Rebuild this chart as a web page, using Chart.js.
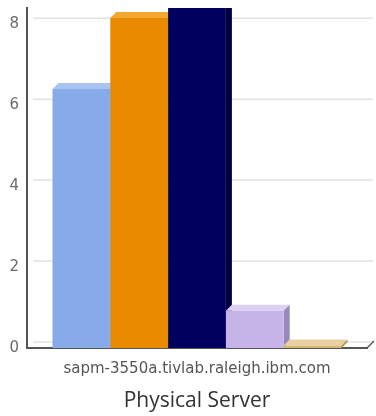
<!DOCTYPE html>
<html>
<head>
<meta charset="utf-8">
<script src="https://cdn.jsdelivr.net/npm/chart.js@4/dist/chart.umd.min.js"></script>
<style>
  html, body { margin: 0; padding: 0; background: #fff; }
  #wrap { width: 376px; height: 416px; position: relative; }
</style>
</head>
<body>
<div id="wrap"><canvas id="c"></canvas></div>
<script>
// Categories and series values
const categories = ['sapm-3550a.tivlab.raleigh.ibm.com'];
const seriesNames = ['Series 1', 'Series 2', 'Series 3', 'Series 4', 'Series 5'];
const seriesValues = [6.4, 8.15, 8.6, 0.92, 0.06];
const yTicks = [0, 2, 4, 6, 8];
const yMax = 8.4;

// Front, top and side shades per series
const frontColors = ['#86abe8', '#e88b00', '#00005e', '#c6b4e8', '#d8b676'];
const topColors   = ['#a9c4f0', '#f3a733', '#1a1a78', '#ddd0f2', '#ead0a0'];
const sideColors  = ['#6a8fcc', '#b86e00', '#000040', '#9a88bc', '#b09258'];

const DEPTH = 6;

// Back-wall grid lines, drawn offset by the extrusion depth
const backGrid = {
  id: 'backGrid',
  beforeDatasetsDraw(chart) {
    const { ctx, chartArea, scales } = chart;
    ctx.save();
    ctx.strokeStyle = '#e2e2e2';
    ctx.lineWidth = 1.5;
    yTicks.forEach(v => {
      const y = scales.y.getPixelForValue(v) - DEPTH;
      ctx.beginPath();
      ctx.moveTo(chartArea.left + DEPTH, y);
      ctx.lineTo(chartArea.right + DEPTH, y);
      ctx.stroke();
    });
    ctx.restore();
  }
};

// Top and right faces of each bar; the fronts are drawn over them afterwards
const extrude = {
  id: 'extrude',
  beforeDatasetsDraw(chart) {
    const { ctx, chartArea } = chart;
    ctx.save();
    ctx.beginPath();
    ctx.rect(chartArea.left, chartArea.top, chartArea.right - chartArea.left + DEPTH + 2, chartArea.bottom - chartArea.top);
    ctx.clip();
    chart.data.datasets.forEach((ds, i) => {
      const meta = chart.getDatasetMeta(i);
      meta.data.forEach(bar => {
        const { x, y, base, width } = bar.getProps(['x', 'y', 'base', 'width'], true);
        const l = x - width / 2, r = x + width / 2;
        ctx.fillStyle = topColors[i];
        ctx.beginPath();
        ctx.moveTo(l, y);
        ctx.lineTo(l + DEPTH, y - DEPTH);
        ctx.lineTo(r + DEPTH, y - DEPTH);
        ctx.lineTo(r, y);
        ctx.closePath();
        ctx.fill();
        ctx.fillStyle = sideColors[i];
        ctx.beginPath();
        ctx.moveTo(r, y);
        ctx.lineTo(r + DEPTH, y - DEPTH);
        ctx.lineTo(r + DEPTH, base - DEPTH);
        ctx.lineTo(r, base);
        ctx.closePath();
        ctx.fill();
      });
    });
    ctx.restore();
  },
  afterDraw(chart) {
    // slanted floor edge at the right end of the x axis
    const { ctx, chartArea } = chart;
    ctx.save();
    ctx.strokeStyle = '#555';
    ctx.lineWidth = 1.5;
    ctx.beginPath();
    ctx.moveTo(chartArea.right, chartArea.bottom);
    ctx.lineTo(chartArea.right + DEPTH + 1, chartArea.bottom - DEPTH - 1);
    ctx.stroke();
    ctx.restore();
  }
};

new Chart(document.getElementById('c'), {
  type: 'bar',
  data: {
    labels: categories,
    datasets: seriesValues.map((v, i) => ({
      label: seriesNames[i],
      data: [v],
      backgroundColor: frontColors[i],
      borderWidth: 0,
      barPercentage: 1.0,
      categoryPercentage: 0.85
    }))
  },
  options: {
    responsive: true,
    maintainAspectRatio: false,
    animation: false,
    layout: { padding: { top: 8, right: 9, left: 0, bottom: 0 } },
    plugins: {
      legend: { display: false },
      tooltip: { enabled: false }
    },
    scales: {
      x: {
        grid: { display: false, drawTicks: false },
        border: { display: true, color: '#555', width: 2 },
        ticks: {
          color: '#555',
          padding: 12,
          font: { family: 'DejaVu Sans', size: 15 }
        },
        title: {
          display: true,
          text: 'Physical Server',
          color: '#333',
          font: { family: 'Open Sans', size: 21 },
          padding: { top: 0, bottom: 2 }
        },
        afterFit(scale) { scale.height = 68; scale.paddingLeft = 0; scale.paddingRight = 0; }
      },
      y: {
        min: 0,
        max: yMax,
        afterBuildTicks(scale) { scale.ticks = yTicks.map(v => ({ value: v })); },
        grid: { display: false, drawTicks: false },
        border: { display: true, color: '#555', width: 2 },
        ticks: {
          color: '#6a6a6a',
          padding: 8,
          font: { family: 'DejaVu Sans', size: 15 }
        },
        afterFit(scale) { scale.width = 27; scale.paddingTop = 0; scale.paddingBottom = 0; }
      }
    }
  },
  plugins: [backGrid, extrude]
});
</script>
</body>
</html>
